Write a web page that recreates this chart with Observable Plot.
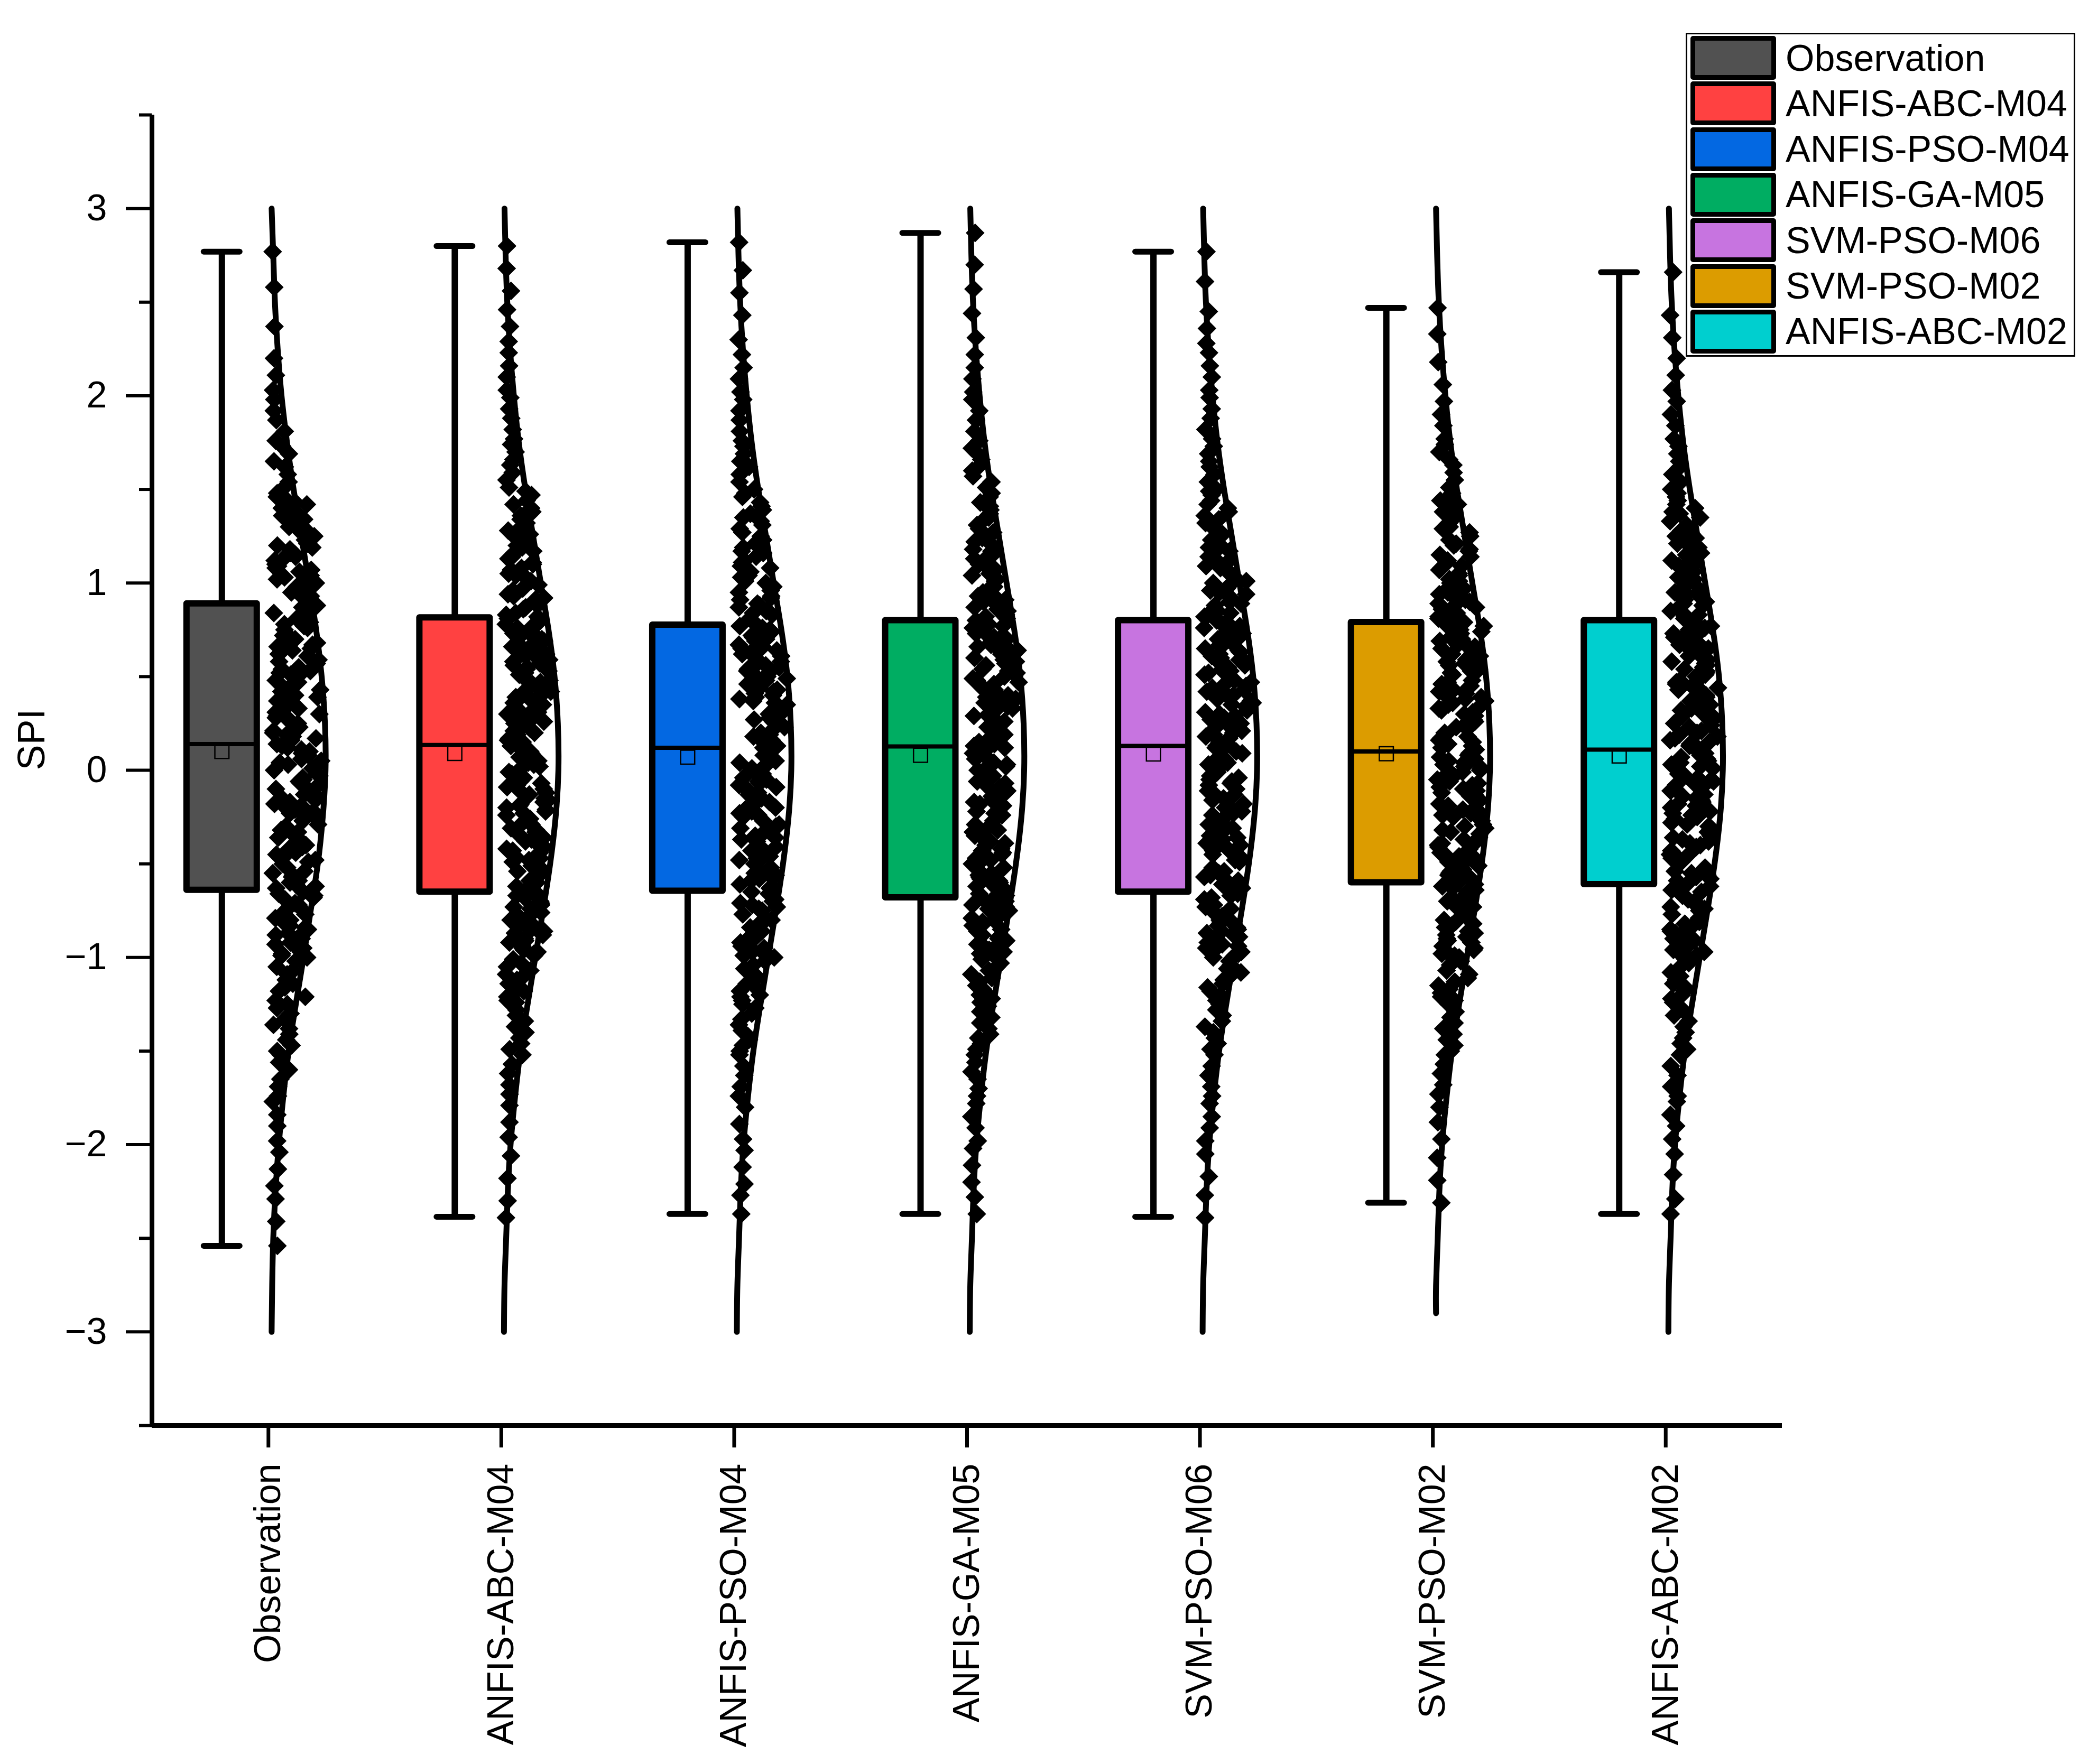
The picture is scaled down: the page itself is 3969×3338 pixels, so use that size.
<!DOCTYPE html>
<html><head><meta charset="utf-8">
<script src="https://cdn.jsdelivr.net/npm/d3@7"></script>
<script src="https://cdn.jsdelivr.net/npm/@observablehq/plot@0.6"></script>
<style>
body{margin:0;background:#fff;}
#wrap{position:relative;width:3969px;height:3338px;font-family:"Liberation Sans",Arial,sans-serif;}
#legend{position:absolute;left:3189px;top:62px;width:731px;height:607px;border:3px solid #000;background:#fff;}
.row{position:absolute;left:6px;height:83px;display:flex;align-items:center;}
.sw{width:144px;height:65px;border:9px solid #000;border-radius:5px;}
.lab{margin-left:18px;font-size:70px;line-height:1;white-space:nowrap;color:#000;}
</style></head><body><div id="wrap"></div>
<script>
const models = ["Observation","ANFIS-ABC-M04","ANFIS-PSO-M04","ANFIS-GA-M05","SVM-PSO-M06","SVM-PSO-M02","ANFIS-ABC-M02"];
const colors = ["#515151","#FF4141","#0368E2","#00AD62","#C774E0","#DC9C00","#00CFCF"];

const boxMin    = [-2.54,-2.385,-2.37,-2.37,-2.385,-2.31,-2.37];
const boxQ1     = [-0.64,-0.65,-0.645,-0.68,-0.65,-0.60,-0.61];
const boxMedian = [0.14,0.135,0.12,0.127,0.13,0.10,0.11];
const boxQ3     = [0.89,0.815,0.776,0.80,0.80,0.79,0.80];
const boxMax    = [2.77,2.80,2.82,2.87,2.77,2.47,2.66];
const boxMean   = [0.10,0.09,0.07,0.08,0.087,0.088,0.076];

const spiObservation = [-2.54,-2.41,-2.29,-2.22,-2.13,-2.04,-1.98,-1.90,-1.84,-1.77,-1.74,-1.69,-1.65,-1.60,-1.56,-1.52,
-1.50,-1.47,-1.44,-1.41,-1.38,-1.36,-1.33,-1.30,-1.27,-1.25,-1.23,-1.21,-1.18,-1.16,-1.14,-1.12,-1.09,-1.07,-1.05,-1.02,
-1.00,-0.99,-0.98,-0.97,-0.95,-0.94,-0.93,-0.92,-0.90,-0.89,-0.88,-0.87,-0.85,-0.84,-0.83,-0.82,-0.80,-0.79,-0.77,
-0.75,-0.74,-0.73,-0.72,-0.71,-0.69,-0.68,-0.67,-0.66,-0.65,-0.63,-0.62,-0.61,-0.60,-0.59,-0.57,-0.56,-0.55,-0.54,-0.52,
-0.50,-0.49,-0.48,-0.46,-0.45,-0.44,-0.42,-0.41,-0.40,-0.38,-0.37,-0.36,-0.34,-0.33,-0.32,-0.30,-0.29,-0.27,
-0.25,-0.24,-0.23,-0.22,-0.21,-0.20,-0.19,-0.18,-0.17,-0.16,-0.15,-0.14,-0.13,-0.11,-0.10,-0.09,-0.08,-0.07,-0.06,-0.05,-0.04,-0.03,-0.02,
0.00,0.01,0.02,0.03,0.04,0.05,0.06,0.08,0.09,0.10,0.11,0.12,0.13,0.14,0.16,0.17,0.18,0.19,0.20,0.21,0.23,
0.25,0.26,0.27,0.28,0.29,0.30,0.31,0.32,0.33,0.34,0.36,0.37,0.38,0.39,0.40,0.41,0.42,0.43,0.44,0.45,0.47,0.48,
0.50,0.51,0.52,0.53,0.54,0.55,0.56,0.57,0.58,0.59,0.61,0.62,0.63,0.64,0.65,0.66,0.67,0.68,0.69,0.70,0.72,0.73,
0.75,0.76,0.77,0.78,0.79,0.81,0.82,0.83,0.84,0.85,0.87,0.88,0.89,0.90,0.91,0.93,0.94,0.95,0.96,0.98,
1.00,1.01,1.02,1.03,1.04,1.06,1.07,1.08,1.09,1.10,1.12,1.13,1.14,1.15,1.16,1.18,1.19,1.20,1.21,1.23,
1.25,1.26,1.27,1.29,1.30,1.32,1.33,1.34,1.36,1.37,1.39,1.40,1.42,1.43,1.45,1.46,1.48,
1.50,1.54,1.58,1.62,1.65,1.69,1.73,1.76,1.81,1.87,1.92,1.98,2.03,2.11,2.20,2.37,2.58,2.77];

const spiAbcM04 = [-2.39,-2.30,-2.18,-2.06,-1.96,-1.88,-1.79,-1.73,-1.68,-1.62,-1.57,-1.52,
-1.49,-1.46,-1.43,-1.40,-1.37,-1.34,-1.31,-1.28,
-1.24,-1.23,-1.21,-1.19,-1.18,-1.16,-1.14,-1.12,-1.11,-1.09,-1.07,-1.05,-1.03,-1.01,
-0.99,-0.98,-0.97,-0.96,-0.95,-0.94,-0.93,-0.92,-0.91,-0.90,-0.88,-0.87,-0.86,-0.85,-0.84,-0.83,-0.82,-0.81,-0.80,-0.79,-0.77,-0.76,
-0.74,-0.73,-0.72,-0.71,-0.70,-0.68,-0.67,-0.66,-0.65,-0.64,-0.62,-0.61,-0.60,-0.59,-0.58,-0.56,-0.55,-0.54,-0.53,-0.51,
-0.49,-0.48,-0.47,-0.46,-0.44,-0.43,-0.42,-0.41,-0.39,-0.38,-0.37,-0.36,-0.34,-0.33,-0.32,-0.31,-0.29,-0.28,-0.26,
-0.24,-0.23,-0.22,-0.21,-0.20,-0.19,-0.18,-0.17,-0.16,-0.15,-0.13,-0.12,-0.11,-0.10,-0.09,-0.08,-0.07,-0.06,-0.05,-0.04,-0.02,-0.01,
0.01,0.02,0.03,0.04,0.05,0.07,0.08,0.09,0.10,0.11,0.13,0.14,0.15,0.16,0.17,0.19,0.20,0.21,0.22,0.24,
0.25,0.26,0.27,0.28,0.29,0.30,0.31,0.32,0.33,0.34,0.35,0.36,0.37,0.38,0.39,0.40,0.41,0.42,0.43,0.44,0.45,0.46,0.47,0.48,
0.50,0.51,0.52,0.53,0.54,0.55,0.56,0.57,0.58,0.59,0.60,0.61,0.62,0.62,0.63,0.64,0.65,0.66,0.67,0.68,0.69,0.70,0.71,0.72,0.73,0.74,
0.76,0.77,0.78,0.79,0.81,0.82,0.83,0.84,0.86,0.87,0.88,0.89,0.91,0.92,0.93,0.94,0.96,0.97,0.99,
1.01,1.02,1.04,1.05,1.07,1.08,1.10,1.11,1.13,1.14,1.16,1.17,1.19,1.20,1.22,1.24,
1.26,1.28,1.30,1.32,1.34,1.36,1.38,1.40,1.42,1.44,1.47,1.49,
1.51,1.55,1.59,1.63,1.66,1.70,1.74,1.77,1.82,1.88,1.93,1.99,2.03,2.10,2.16,2.23,2.29,2.37,2.46,2.56,2.68,2.80];

const spiPsoM04 = [-2.37,-2.27,-2.21,-2.12,-2.03,-1.97,-1.89,-1.80,-1.74,-1.69,-1.63,-1.58,-1.52,
-1.50,-1.47,-1.44,-1.42,-1.39,-1.36,-1.33,-1.30,-1.27,
-1.25,-1.23,-1.21,-1.20,-1.18,-1.16,-1.14,-1.12,-1.10,-1.08,-1.06,-1.04,-1.02,
-1.00,-0.99,-0.98,-0.97,-0.96,-0.95,-0.94,-0.92,-0.91,-0.90,-0.89,-0.88,-0.87,-0.86,-0.84,-0.83,-0.82,-0.81,-0.80,-0.79,-0.77,
-0.75,-0.74,-0.73,-0.72,-0.71,-0.70,-0.69,-0.67,-0.66,-0.65,-0.64,-0.63,-0.62,-0.61,-0.59,-0.58,-0.57,-0.56,-0.55,-0.54,-0.52,
-0.50,-0.49,-0.48,-0.47,-0.46,-0.44,-0.43,-0.42,-0.41,-0.40,-0.38,-0.37,-0.36,-0.35,-0.34,-0.32,-0.31,-0.30,-0.29,-0.27,
-0.25,-0.24,-0.23,-0.22,-0.21,-0.20,-0.19,-0.17,-0.16,-0.15,-0.14,-0.13,-0.12,-0.11,-0.09,-0.08,-0.07,-0.06,-0.05,-0.04,-0.02,
0.00,0.01,0.02,0.03,0.04,0.05,0.06,0.08,0.09,0.10,0.11,0.12,0.13,0.14,0.16,0.17,0.18,0.19,0.20,0.21,0.23,
0.25,0.26,0.27,0.28,0.29,0.30,0.31,0.32,0.33,0.34,0.35,0.36,0.37,0.38,0.39,0.40,0.41,0.42,0.43,0.44,0.45,0.46,0.47,0.48,0.49,
0.50,0.51,0.52,0.53,0.54,0.55,0.56,0.57,0.57,0.58,0.59,0.60,0.61,0.62,0.63,0.64,0.65,0.66,0.67,0.68,0.69,0.70,0.71,0.72,0.73,0.74,
0.75,0.76,0.77,0.79,0.80,0.81,0.83,0.84,0.85,0.87,0.88,0.89,0.91,0.92,0.93,0.95,0.96,0.98,
1.00,1.01,1.03,1.04,1.06,1.08,1.09,1.11,1.12,1.14,1.16,1.17,1.19,1.21,1.23,
1.25,1.27,1.29,1.31,1.33,1.35,1.37,1.39,1.41,1.43,1.46,1.48,
1.50,1.54,1.58,1.62,1.65,1.69,1.73,1.76,1.81,1.87,1.92,1.98,2.02,2.09,2.15,2.22,2.30,2.43,2.55,2.67,2.82];

const spiGaM05 = [-2.37,-2.28,-2.20,-2.11,-2.02,-1.98,-1.91,-1.85,-1.78,-1.74,-1.70,-1.65,-1.61,-1.56,-1.52,
-1.49,-1.46,-1.43,-1.41,-1.38,-1.35,-1.32,-1.29,-1.26,
-1.24,-1.22,-1.20,-1.19,-1.17,-1.15,-1.13,-1.11,-1.09,-1.07,-1.05,-1.03,-1.01,
-0.99,-0.98,-0.97,-0.96,-0.95,-0.94,-0.93,-0.91,-0.90,-0.89,-0.88,-0.87,-0.86,-0.85,-0.83,-0.82,-0.81,-0.80,-0.79,-0.78,-0.76,
-0.75,-0.74,-0.73,-0.72,-0.71,-0.70,-0.69,-0.68,-0.67,-0.66,-0.64,-0.63,-0.62,-0.61,-0.60,-0.59,-0.58,-0.57,-0.56,-0.55,-0.53,-0.52,
-0.50,-0.49,-0.48,-0.47,-0.45,-0.44,-0.43,-0.42,-0.40,-0.39,-0.38,-0.37,-0.35,-0.34,-0.33,-0.32,-0.30,-0.29,-0.27,
-0.24,-0.23,-0.22,-0.21,-0.19,-0.18,-0.17,-0.16,-0.14,-0.13,-0.12,-0.11,-0.09,-0.08,-0.07,-0.06,-0.04,-0.03,-0.01,
0.00,0.01,0.02,0.03,0.04,0.06,0.07,0.08,0.09,0.10,0.12,0.13,0.14,0.15,0.16,0.18,0.19,0.20,0.21,0.23,
0.26,0.27,0.28,0.29,0.30,0.31,0.32,0.33,0.34,0.35,0.36,0.37,0.38,0.39,0.40,0.41,0.42,0.43,0.44,0.45,0.46,0.47,0.48,0.49,
0.50,0.51,0.52,0.53,0.54,0.55,0.56,0.57,0.58,0.59,0.60,0.61,0.62,0.63,0.64,0.65,0.66,0.66,0.67,0.68,0.69,0.70,0.71,0.72,0.73,0.74,
0.75,0.76,0.77,0.78,0.80,0.81,0.82,0.83,0.85,0.86,0.87,0.88,0.90,0.91,0.92,0.93,0.95,0.96,0.98,
1.01,1.02,1.04,1.05,1.07,1.09,1.10,1.12,1.13,1.15,1.17,1.18,1.20,1.22,1.24,
1.25,1.27,1.29,1.31,1.33,1.35,1.37,1.39,1.41,1.43,1.46,1.48,
1.51,1.54,1.57,1.60,1.63,1.66,1.69,1.72,1.76,1.81,1.87,1.92,1.98,2.02,2.09,2.15,2.22,2.31,2.44,2.57,2.70,2.87];

const spiSvmM06 = [-2.39,-2.27,-2.17,-2.05,-1.98,-1.91,-1.85,-1.78,-1.74,-1.69,-1.63,-1.58,-1.52,
-1.49,-1.46,-1.43,-1.40,-1.37,-1.34,-1.31,-1.28,
-1.25,-1.23,-1.21,-1.20,-1.18,-1.16,-1.14,-1.12,-1.10,-1.08,-1.06,-1.04,-1.02,
-1.00,-0.99,-0.98,-0.97,-0.96,-0.95,-0.94,-0.93,-0.92,-0.91,-0.89,-0.88,-0.87,-0.86,-0.85,-0.84,-0.83,-0.82,-0.81,-0.80,-0.78,-0.77,
-0.75,-0.74,-0.73,-0.72,-0.71,-0.69,-0.68,-0.67,-0.66,-0.65,-0.63,-0.62,-0.61,-0.60,-0.59,-0.57,-0.56,-0.55,-0.54,-0.52,
-0.49,-0.48,-0.47,-0.46,-0.45,-0.43,-0.42,-0.41,-0.40,-0.39,-0.37,-0.36,-0.35,-0.34,-0.33,-0.31,-0.30,-0.29,-0.28,-0.26,
-0.24,-0.23,-0.22,-0.21,-0.20,-0.19,-0.18,-0.16,-0.15,-0.14,-0.13,-0.12,-0.11,-0.10,-0.08,-0.07,-0.06,-0.05,-0.04,-0.03,-0.01,
0.01,0.02,0.03,0.04,0.05,0.06,0.07,0.09,0.10,0.11,0.12,0.13,0.14,0.15,0.17,0.18,0.19,0.20,0.21,0.22,0.24,
0.25,0.26,0.27,0.28,0.29,0.30,0.31,0.32,0.33,0.34,0.35,0.36,0.37,0.38,0.39,0.40,0.41,0.42,0.43,0.44,0.45,0.46,0.47,0.48,
0.50,0.51,0.52,0.53,0.53,0.54,0.55,0.56,0.57,0.58,0.59,0.60,0.61,0.62,0.63,0.64,0.65,0.66,0.67,0.68,0.69,0.70,0.71,0.72,0.73,0.74,
0.76,0.77,0.78,0.79,0.80,0.82,0.83,0.84,0.85,0.86,0.88,0.89,0.90,0.91,0.92,0.94,0.95,0.96,0.97,0.99,
1.00,1.01,1.03,1.04,1.06,1.08,1.09,1.11,1.12,1.14,1.16,1.17,1.19,1.21,1.23,
1.26,1.28,1.30,1.32,1.34,1.36,1.38,1.40,1.42,1.44,1.47,1.49,
1.50,1.54,1.58,1.62,1.65,1.69,1.73,1.77,1.82,1.88,1.93,1.99,2.03,2.10,2.16,2.23,2.28,2.36,2.45,2.61,2.77];

const spiSvmM02 = [-2.31,-2.19,-2.07,-1.97,-1.88,-1.80,-1.73,-1.68,-1.62,-1.57,-1.52,
-1.50,-1.47,-1.44,-1.41,-1.38,-1.35,-1.32,-1.29,
-1.25,-1.23,-1.21,-1.19,-1.17,-1.15,-1.13,-1.11,-1.09,-1.07,-1.04,-1.02,
-1.00,-0.99,-0.98,-0.97,-0.96,-0.95,-0.94,-0.92,-0.91,-0.90,-0.89,-0.88,-0.87,-0.86,-0.84,-0.83,-0.82,-0.81,-0.80,-0.79,-0.77,
-0.74,-0.73,-0.72,-0.71,-0.70,-0.69,-0.68,-0.66,-0.65,-0.64,-0.63,-0.62,-0.61,-0.60,-0.58,-0.57,-0.56,-0.55,-0.54,-0.53,-0.51,
-0.50,-0.49,-0.48,-0.47,-0.46,-0.45,-0.44,-0.42,-0.41,-0.40,-0.39,-0.38,-0.37,-0.36,-0.34,-0.33,-0.32,-0.31,-0.30,-0.29,-0.27,
-0.25,-0.24,-0.23,-0.22,-0.21,-0.20,-0.19,-0.18,-0.17,-0.16,-0.15,-0.14,-0.13,-0.12,-0.11,-0.10,-0.09,-0.08,-0.07,-0.06,-0.05,-0.04,-0.03,-0.02,-0.01,
0.00,0.01,0.02,0.03,0.04,0.05,0.06,0.07,0.08,0.09,0.11,0.12,0.13,0.14,0.15,0.16,0.17,0.18,0.19,0.20,0.22,0.23,
0.25,0.26,0.27,0.28,0.29,0.30,0.31,0.32,0.33,0.34,0.35,0.36,0.37,0.38,0.39,0.40,0.41,0.42,0.43,0.44,0.45,0.46,0.47,0.48,
0.51,0.52,0.53,0.54,0.55,0.56,0.57,0.58,0.59,0.60,0.61,0.62,0.63,0.64,0.65,0.66,0.67,0.68,0.69,0.70,0.71,0.72,0.73,0.74,
0.75,0.76,0.77,0.78,0.79,0.80,0.81,0.82,0.83,0.84,0.86,0.87,0.88,0.89,0.90,0.91,0.92,0.93,0.94,0.95,0.97,0.98,
1.00,1.01,1.02,1.04,1.05,1.07,1.08,1.09,1.11,1.12,1.14,1.15,1.17,1.18,1.20,1.21,1.23,
1.25,1.27,1.29,1.30,1.32,1.34,1.36,1.38,1.40,1.42,1.44,1.46,1.48,
1.51,1.55,1.59,1.63,1.66,1.70,1.74,1.77,1.84,1.90,1.97,2.06,2.18,2.33,2.47];

const spiAbcM02 = [-2.37,-2.29,-2.16,-2.05,-1.97,-1.90,-1.84,-1.77,-1.74,-1.69,-1.63,-1.58,-1.52,
-1.49,-1.46,-1.43,-1.40,-1.37,-1.34,-1.31,-1.28,
-1.24,-1.22,-1.20,-1.18,-1.16,-1.14,-1.12,-1.10,-1.08,-1.06,-1.03,-1.01,
-1.00,-0.99,-0.98,-0.97,-0.96,-0.94,-0.93,-0.92,-0.91,-0.90,-0.88,-0.87,-0.86,-0.85,-0.84,-0.82,-0.81,-0.80,-0.79,-0.77,
-0.75,-0.74,-0.73,-0.72,-0.71,-0.70,-0.69,-0.67,-0.66,-0.65,-0.64,-0.63,-0.62,-0.61,-0.59,-0.58,-0.57,-0.56,-0.55,-0.54,-0.52,
-0.49,-0.48,-0.47,-0.46,-0.45,-0.44,-0.43,-0.41,-0.40,-0.39,-0.38,-0.37,-0.36,-0.35,-0.33,-0.32,-0.31,-0.30,-0.29,-0.28,-0.26,
-0.25,-0.24,-0.23,-0.22,-0.21,-0.20,-0.19,-0.18,-0.17,-0.16,-0.15,-0.14,-0.13,-0.11,-0.10,-0.09,-0.08,-0.07,-0.06,-0.05,-0.04,-0.03,-0.02,
0.01,0.02,0.03,0.04,0.05,0.06,0.07,0.08,0.09,0.10,0.12,0.13,0.14,0.15,0.16,0.17,0.18,0.19,0.20,0.21,0.23,0.24,
0.25,0.26,0.27,0.28,0.29,0.30,0.31,0.32,0.33,0.34,0.35,0.36,0.37,0.38,0.39,0.40,0.41,0.42,0.43,0.44,0.45,0.46,0.47,0.48,0.49,
0.50,0.51,0.52,0.53,0.54,0.55,0.56,0.57,0.58,0.59,0.60,0.61,0.62,0.64,0.65,0.66,0.67,0.68,0.69,0.70,0.71,0.72,0.73,
0.75,0.76,0.77,0.78,0.79,0.81,0.82,0.83,0.84,0.85,0.87,0.88,0.89,0.90,0.91,0.93,0.94,0.95,0.96,0.98,
1.01,1.02,1.03,1.05,1.06,1.08,1.09,1.10,1.12,1.13,1.15,1.16,1.18,1.19,1.21,1.22,1.24,
1.25,1.26,1.28,1.30,1.31,1.33,1.35,1.37,1.38,1.40,1.42,1.44,1.46,1.48,
1.50,1.54,1.58,1.62,1.65,1.69,1.73,1.77,1.84,1.90,1.97,2.03,2.11,2.20,2.31,2.43,2.66];

const scatterValues = [spiObservation, spiAbcM04, spiPsoM04, spiGaM05, spiSvmM06, spiSvmM02, spiAbcM02];

// fitted normal curves: relative width read at each SPI level
const curveLevels = [-3,-2.75,-2.5,-2.25,-2,-1.75,-1.5,-1.25,-1,-0.75,-0.5,-0.25,0,0.25,0.5,0.75,1,1.25,1.5,1.75,2,2.25,2.5,2.75,3];
const curveObservation = [0.02,0.03,0.05,0.09,0.15,0.23,0.33,0.46,0.60,0.73,0.86,0.95,1.00,0.99,0.93,0.83,0.70,0.56,0.42,0.30,0.20,0.13,0.08,0.05,0.02];
const curveAbcM04 = [0.01,0.02,0.05,0.08,0.13,0.21,0.31,0.44,0.58,0.72,0.85,0.95,1.00,0.99,0.93,0.82,0.68,0.54,0.40,0.28,0.19,0.12,0.07,0.04,0.02];
const curvePsoM04 = [0.01,0.02,0.05,0.08,0.13,0.21,0.31,0.44,0.58,0.72,0.85,0.95,1.00,0.99,0.93,0.82,0.68,0.54,0.40,0.28,0.19,0.12,0.07,0.04,0.02];
const curveGaM05 = [0.01,0.02,0.05,0.08,0.13,0.21,0.31,0.44,0.58,0.72,0.85,0.95,1.00,0.99,0.93,0.82,0.68,0.54,0.40,0.28,0.19,0.12,0.07,0.04,0.02];
const curveSvmM06 = [0.01,0.02,0.05,0.08,0.13,0.21,0.31,0.44,0.58,0.72,0.85,0.95,1.00,0.99,0.93,0.82,0.68,0.54,0.40,0.28,0.19,0.12,0.07,0.04,0.02];
const curveSvmM02 = [0.02,0.02,0.05,0.08,0.13,0.21,0.31,0.44,0.58,0.72,0.85,0.95,1.00,0.99,0.93,0.82,0.68,0.54,0.40,0.28,0.19,0.12,0.07,0.04,0.02];
const curveAbcM02 = [0.01,0.02,0.05,0.08,0.13,0.21,0.31,0.44,0.58,0.72,0.85,0.95,1.00,0.99,0.93,0.82,0.68,0.54,0.40,0.28,0.19,0.12,0.07,0.04,0.02];
const curveStart = [-3,-3,-3,-3,-3,-2.9,-3];
const curves = [curveObservation, curveAbcM04, curvePsoM04, curveGaM05, curveSvmM06, curveSvmM02, curveAbcM02];

const majorTicks = [-3,-2,-1,0,1,2,3];
const minorTicks = [-3.5,-2.5,-1.5,-0.5,0.5,1.5,2.5,3.5];

// ---------- layout ----------
const W = 3969, H = 3338, ML = 287, MR = 598, MT = 217, MB = 641;
const unit = (W - ML - MR) / models.length;
const BOX_L = 154.5 / unit, BOX_R = 21.5 / unit, BOX_C = 88 / unit, CAP = 34 / unit;
const font = '"Liberation Sans", Arial, sans-serif';

const boxes = models.map((m, i) => ({i, model: m, color: colors[i], min: boxMin[i], q1: boxQ1[i],
  median: boxMedian[i], q3: boxQ3[i], max: boxMax[i], mean: boxMean[i]}));

function hash(k, g) { const s = Math.sin((k + 1) * 12.9898 + (g + 1) * 78.233) * 43758.5453; return s - Math.floor(s); }

const points = scatterValues.flatMap((vals, g) => {
  const lo = d3.min(vals), hi = d3.max(vals), step = (hi - lo) / 12;
  const bi = v => Math.min(11, Math.floor((v - lo) / step));
  const counts = new Array(12).fill(0);
  vals.forEach(v => counts[bi(v)]++);
  const maxC = d3.max(counts);
  return vals.map((v, k) => ({g, y: v, x: g + (8 + hash(k, g) * 92 * counts[bi(v)] / maxC) / unit}));
});

const curveData = curves.flatMap((dens, g) => curveLevels.map((y, k) =>
  ({g, y: Math.max(y, curveStart[g]), x: g + (4 + dens[k] * 104) / unit})));

const chart = Plot.plot({
  width: W, height: H, marginLeft: ML, marginRight: MR, marginTop: MT, marginBottom: MB,
  style: {fontFamily: font, background: "#fff", color: "#000", overflow: "visible"},
  x: {domain: [-0.5, models.length - 0.5], label: null},
  y: {domain: [-3.5, 3.5], label: null},
  color: {type: "identity"},
  marks: [
    Plot.ruleX(boxes, {x: d => d.i - BOX_C, y1: "q3", y2: "max", stroke: "#000", strokeWidth: 12}),
    Plot.ruleX(boxes, {x: d => d.i - BOX_C, y1: "min", y2: "q1", stroke: "#000", strokeWidth: 12}),
    Plot.ruleY(boxes, {y: "max", x1: d => d.i - BOX_C - CAP, x2: d => d.i - BOX_C + CAP, stroke: "#000", strokeWidth: 11, strokeLinecap: "round"}),
    Plot.ruleY(boxes, {y: "min", x1: d => d.i - BOX_C - CAP, x2: d => d.i - BOX_C + CAP, stroke: "#000", strokeWidth: 11, strokeLinecap: "round"}),
    Plot.rect(boxes, {x1: d => d.i - BOX_L, x2: d => d.i - BOX_R, y1: "q1", y2: "q3", fill: d => d.color, stroke: "#000", strokeWidth: 12, strokeLinejoin: "round"}),
    Plot.dot(boxes, {x: d => d.i - BOX_C, y: "mean", symbol: "square", r: 15, fill: d => d.color, stroke: "#000", strokeWidth: 2.5}),
    Plot.ruleY(boxes, {y: "median", x1: d => d.i - BOX_L, x2: d => d.i - BOX_R, stroke: "#000", strokeWidth: 8}),
    Plot.dot(points, {x: "x", y: "y", symbol: "diamond2", r: 16, fill: "#000", stroke: "none"}),
    Plot.line(curveData, {x: "x", y: "y", z: "g", stroke: "#000", strokeWidth: 11, curve: "natural", strokeLinecap: "round"}),
    Plot.ruleX([-0.5], {y1: -3.5, y2: 3.5, stroke: "#000", strokeWidth: 9}),
    Plot.ruleY([-3.5], {x1: -0.5, x2: models.length - 0.5, stroke: "#000", strokeWidth: 9}),
    Plot.axisY(majorTicks, {tickSize: 49, tickPadding: 36, fontSize: 70, strokeWidth: 6, tickFormat: d3.format("d"), label: null}),
    Plot.axisY(minorTicks, {tickSize: 24, tickFormat: () => "", strokeWidth: 6, label: null}),
    Plot.axisX(models.map((_, i) => i), {tickSize: 42, tickPadding: 30, tickRotate: -90, fontSize: 70, strokeWidth: 7,
      tickFormat: i => models[i], label: null}),
    Plot.text(["SPI"], {frameAnchor: "left", dx: -227, rotate: -90, fontSize: 72, fill: "#000"})
  ]
});

const wrap = document.getElementById("wrap");
wrap.appendChild(chart);

const legend = document.createElement("div");
legend.id = "legend";
models.forEach((m, i) => {
  const row = document.createElement("div");
  row.className = "row";
  row.style.top = (3 + i * 86.3) + "px";
  const sw = document.createElement("div");
  sw.className = "sw";
  sw.style.background = colors[i];
  const lab = document.createElement("span");
  lab.className = "lab";
  lab.textContent = m;
  row.appendChild(sw); row.appendChild(lab);
  legend.appendChild(row);
});
wrap.appendChild(legend);
</script></body></html>
